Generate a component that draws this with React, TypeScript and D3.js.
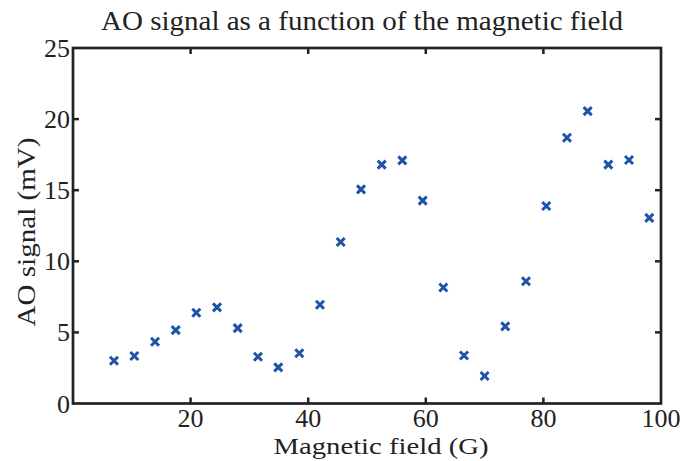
import React from "react";
import * as d3 from "d3";

const fieldG: number[] = [6.97, 10.43, 13.95, 17.47, 20.97, 24.49, 28.01, 31.46, 34.91, 38.49, 42.0, 45.53, 48.98, 52.5, 56.0, 59.47, 62.98, 66.5, 70.0, 73.52, 77.04, 80.49, 84.01, 87.53, 91.04, 94.56, 98.01];
const signalMV: number[] = [3.01, 3.34, 4.34, 5.16, 6.38, 6.76, 5.3, 3.29, 2.54, 3.53, 6.94, 11.36, 15.06, 16.8, 17.1, 14.27, 8.16, 3.38, 1.93, 5.42, 8.6, 13.89, 18.69, 20.56, 16.8, 17.12, 13.05];
const xTicks: number[] = [20, 40, 60, 80, 100];
const yTicks: number[] = [0, 5, 10, 15, 20, 25];
const titleText = "AO signal as a function of the magnetic field";
const xLabel = "Magnetic field (G)";
const yLabel = "AO signal (mV)";

const W = 683;
const H = 461;
const L = 73, R = 661, T = 48, B = 403.5;
const FONT = "Liberation Serif, Times New Roman, Times, serif";
const INK = "#222";
const BLUE = "#1d53a9";

export default function App() {
  const x = d3.scaleLinear().domain([0, 100]).range([L, R]);
  const y = d3.scaleLinear().domain([0, 25]).range([B, T]);
  const h = 4;
  const innerX = xTicks.filter((t) => t > 0 && t < 100);
  const innerY = yTicks.filter((t) => t > 0 && t < 25);
  const tl = 6;
  return (
    <svg width={W} height={H} style={{ position: "absolute", left: 0, top: 0, background: "#fff" }}>
      <rect x={0} y={0} width={W} height={H} fill="#fff" />
      <text x={362} y={30} textAnchor="middle" fontFamily={FONT} fontSize={27} fill={INK} textLength={522} lengthAdjust="spacingAndGlyphs">
        {titleText}
      </text>
      {fieldG.map((v, i) => {
        const cx = x(v);
        const cy = y(signalMV[i]);
        return (
          <path
            key={i}
            d={`M${cx - h},${cy - h}L${cx + h},${cy + h}M${cx - h},${cy + h}L${cx + h},${cy - h}`}
            stroke={BLUE}
            strokeWidth={3}
            fill="none"
          />
        );
      })}
      {innerX.map((t) => (
        <g key={"xt" + t}>
          <line x1={x(t)} x2={x(t)} y1={B} y2={B - tl} stroke={INK} strokeWidth={2.5} />
          <line x1={x(t)} x2={x(t)} y1={T} y2={T + tl} stroke={INK} strokeWidth={2.5} />
        </g>
      ))}
      {innerY.map((t) => (
        <g key={"yt" + t}>
          <line x1={L} x2={L + tl} y1={y(t)} y2={y(t)} stroke={INK} strokeWidth={2.5} />
          <line x1={R} x2={R - tl} y1={y(t)} y2={y(t)} stroke={INK} strokeWidth={2.5} />
        </g>
      ))}
      <rect x={L} y={T} width={R - L} height={B - T} fill="none" stroke={INK} strokeWidth={2.7} />
      {xTicks.map((t) => (
        <text key={"xl" + t} x={x(t)} y={427} textAnchor="middle" fontFamily={FONT} fontSize={26} fill={INK}>
          {t}
        </text>
      ))}
      {yTicks.map((t) => (
        <text key={"yl" + t} x={70} y={y(t) + 9} textAnchor="end" fontFamily={FONT} fontSize={26} fill={INK}>
          {t}
        </text>
      ))}
      <text x={381} y={454} textAnchor="middle" fontFamily={FONT} fontSize={23} fill={INK} textLength={215} lengthAdjust="spacingAndGlyphs">
        {xLabel}
      </text>
      <text
        transform={`translate(35,${232}) rotate(-90)`}
        textAnchor="middle"
        fontFamily={FONT}
        fontSize={26}
        fill={INK}
        textLength={189}
        lengthAdjust="spacingAndGlyphs"
      >
        {yLabel}
      </text>
    </svg>
  );
}
